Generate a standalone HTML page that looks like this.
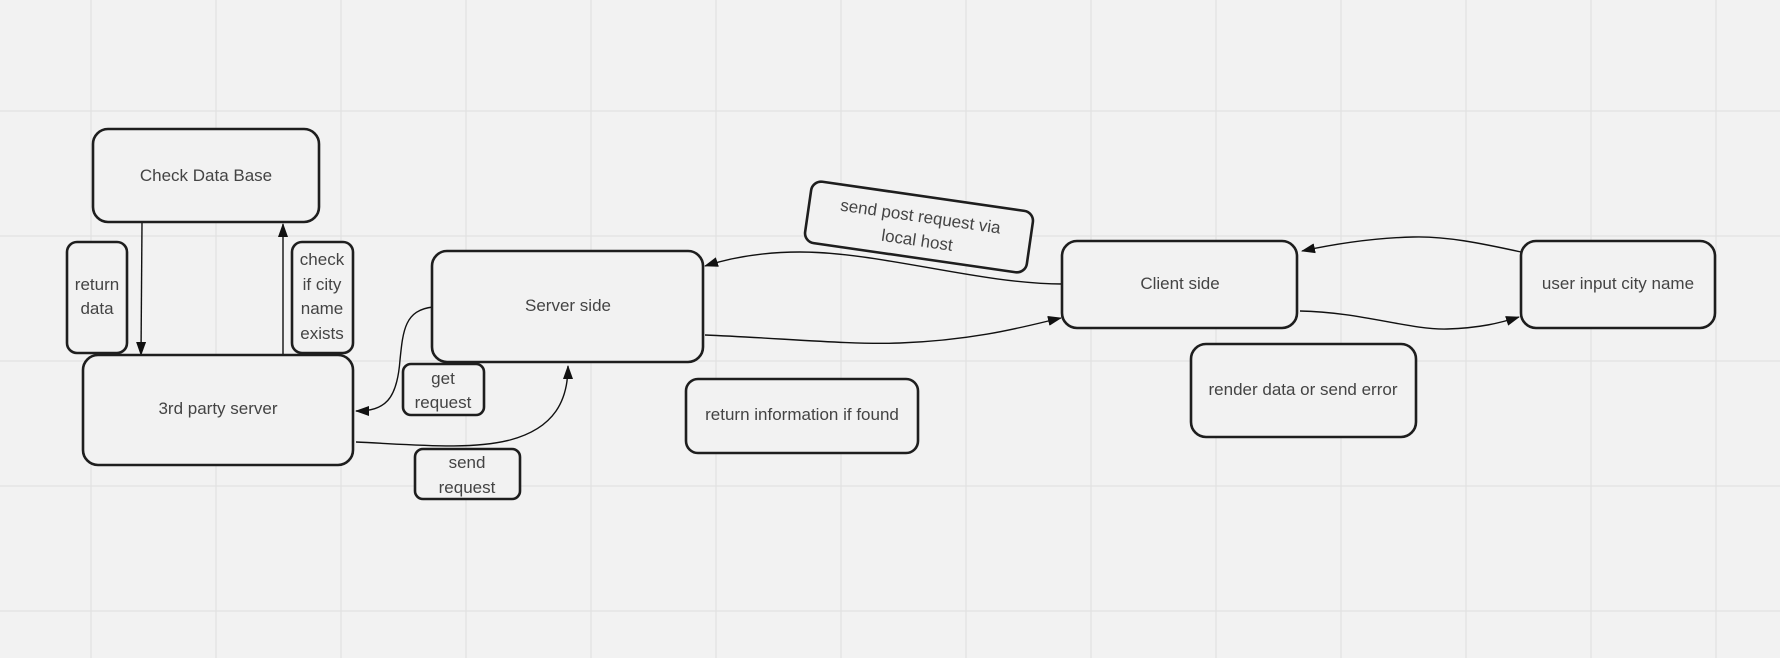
<!DOCTYPE html>
<html><head><meta charset="utf-8"><style>
html,body{margin:0;padding:0;background:#f2f2f2;}
svg{display:block;}
text{font-family:"Liberation Sans",sans-serif;font-size:17px;fill:#444;text-anchor:middle;}
.b{fill:#f2f2f2;stroke:#1e1e1e;stroke-width:2.6;}
.c{fill:none;stroke:#111;stroke-width:1.4;}
</style></head><body>
<svg width="1780" height="658" viewBox="0 0 1780 658" xmlns="http://www.w3.org/2000/svg">
<defs>
<marker id="a" markerWidth="14" markerHeight="10" refX="13" refY="5" orient="auto" markerUnits="userSpaceOnUse">
<path d="M0,0 L14,5 L0,10 Z" fill="#111"/></marker>
</defs>
<rect width="1780" height="658" fill="#f2f2f2"/>
<g stroke="#e2e2e2" stroke-width="1.2">
<line x1="91" y1="0" x2="91" y2="658"/><line x1="216" y1="0" x2="216" y2="658"/><line x1="341" y1="0" x2="341" y2="658"/><line x1="466" y1="0" x2="466" y2="658"/><line x1="591" y1="0" x2="591" y2="658"/><line x1="716" y1="0" x2="716" y2="658"/><line x1="841" y1="0" x2="841" y2="658"/><line x1="966" y1="0" x2="966" y2="658"/><line x1="1091" y1="0" x2="1091" y2="658"/><line x1="1216" y1="0" x2="1216" y2="658"/><line x1="1341" y1="0" x2="1341" y2="658"/><line x1="1466" y1="0" x2="1466" y2="658"/><line x1="1591" y1="0" x2="1591" y2="658"/><line x1="1716" y1="0" x2="1716" y2="658"/>
<line x1="0" y1="111" x2="1780" y2="111"/><line x1="0" y1="236" x2="1780" y2="236"/><line x1="0" y1="361" x2="1780" y2="361"/><line x1="0" y1="486" x2="1780" y2="486"/><line x1="0" y1="611" x2="1780" y2="611"/>
</g>

<!-- connectors -->
<path class="c" d="M142,223 L141,355" marker-end="url(#a)"/>
<path class="c" d="M283,355 L283,224" marker-end="url(#a)"/>
<path class="c" d="M433,307 C405,310 403,330 400,360 C397,400 385,411 356,411" marker-end="url(#a)"/>
<path class="c" d="M356,442 C420,445 470,450 510,440 C555,428 568,400 568,366" marker-end="url(#a)"/>
<path class="c" d="M1062,284 C980,284 880,252 800,252 C760,252 730,258 705,266" marker-end="url(#a)"/>
<path class="c" d="M705,335 C780,338 850,345 900,343 C980,340 1030,325 1061,318" marker-end="url(#a)"/>
<path class="c" d="M1521,252 C1480,243 1445,236 1413,237 C1370,238 1330,245 1302,251" marker-end="url(#a)"/>
<path class="c" d="M1300,311 C1360,312 1410,330 1447,329 C1480,328 1500,323 1519,317" marker-end="url(#a)"/>

<!-- boxes -->
<rect class="b" x="93" y="129" width="226" height="93" rx="15"/>
<text x="206" y="181">Check Data Base</text>
<rect class="b" x="67" y="242" width="60" height="111" rx="10"/>
<text x="97" y="290">return</text><text x="97" y="314">data</text>
<rect class="b" x="292" y="242" width="61" height="111" rx="10"/>
<text x="322" y="265">check</text><text x="322" y="290">if city</text><text x="322" y="314">name</text><text x="322" y="339">exists</text>
<rect class="b" x="83" y="355" width="270" height="110" rx="15"/>
<text x="218" y="414">3rd party server</text>
<rect class="b" x="432" y="251" width="271" height="111" rx="15"/>
<text x="568" y="311">Server side</text>
<rect class="b" x="403" y="364" width="81" height="51" rx="8"/>
<text x="443" y="384">get</text><text x="443" y="408">request</text>
<rect class="b" x="415" y="449" width="105" height="50" rx="8"/>
<text x="467" y="468">send</text><text x="467" y="493">request</text>
<rect class="b" x="686" y="379" width="232" height="74" rx="12"/>
<text x="802" y="420">return information if found</text>
<rect class="b" x="1062" y="241" width="235" height="87" rx="15"/>
<text x="1180" y="289">Client side</text>
<rect class="b" x="1521" y="241" width="194" height="87" rx="15"/>
<text x="1618" y="289">user input city name</text>
<rect class="b" x="1191" y="344" width="225" height="93" rx="15"/>
<text x="1303" y="395">render data or send error</text>
<g transform="translate(919,227) rotate(8.2)">
<rect class="b" x="-112" y="-31" width="224" height="62" rx="10"/>
<text x="0" y="-5">send post request via</text><text x="0" y="19">local host</text>
</g>
</svg>
</body></html>
